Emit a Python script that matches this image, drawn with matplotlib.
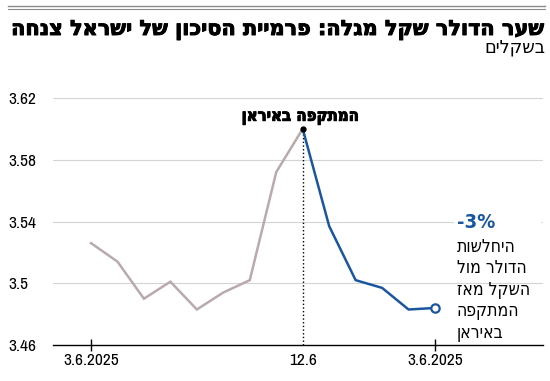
import matplotlib
matplotlib.use("Agg")
import matplotlib.pyplot as plt
import matplotlib.patheffects as pe
from matplotlib.patches import Rectangle
from matplotlib.lines import Line2D

# USD/ILS rate, daily points
values = [3.526, 3.514, 3.490, 3.501, 3.483, 3.494, 3.502, 3.572, 3.600,
          3.537, 3.502, 3.497, 3.483, 3.484]
attack_idx = 8
tick_pos = [0, 8, 13]
tick_labels = ["3.6.2025", "12.6", "3.6.2025"]
y_ticks = [3.46, 3.50, 3.54, 3.58, 3.62]
y_labels = ["3.46", "3.5", "3.54", "3.58", "3.62"]

title = "שער הדולר שקל מגלה: פרמיית הסיכון של ישראל צנחה"
subtitle = "בשקלים"
event_label = "המתקפה באיראן"
change_label = "-3%"
change_lines = ["היחלשות", "הדולר מול", "השקל מאז", "המתקפה", "באיראן"]

GRAY = "#b8aaad"
BLUE = "#1a56a0"
HEB = dict(family="DejaVu Sans", stretch="condensed")
NUM = "Archivo Narrow"
HEAVY = [pe.withStroke(linewidth=0.7, foreground="black")]


def rtl(s):
    # matplotlib has no bidi support: flip Hebrew to visual order
    return s[::-1]


def fit_width(txt, width_px):
    # scale the font so the text spans the width measured on the reference
    r = fig.canvas.get_renderer()
    w = txt.get_window_extent(r).width
    txt.set_fontsize(txt.get_fontsize() * width_px / w)


fig = plt.figure(figsize=(5.5, 3.81), dpi=100)
ax = fig.add_axes([53 / 550, 1 - 345 / 381, 490 / 550, 247 / 381])

x = list(range(len(values)))
ax.plot(x[:attack_idx + 1], values[:attack_idx + 1], color=GRAY, lw=1.8,
        solid_joinstyle="miter", zorder=3)
ax.plot(x[attack_idx:], values[attack_idx:], color=BLUE, lw=1.8,
        solid_joinstyle="miter", zorder=3)
ax.plot(x[-1], values[-1], "o", ms=6, mfc="white", mec=BLUE, mew=1.6, zorder=4)
ax.plot(x[attack_idx], values[attack_idx], "o", ms=3.5, color="black", zorder=5)
ax.plot([attack_idx, attack_idx], [3.46, values[attack_idx]], ls=":", color="black",
        lw=1, zorder=2)

ax.set_xlim(-1.436, 17.08)
ax.set_ylim(3.46, 3.62)

for v in y_ticks[1:]:
    ax.axhline(v, color="#d4d4d4", lw=0.8, zorder=1)

for s in ["top", "right", "left"]:
    ax.spines[s].set_visible(False)
ax.spines["bottom"].set_linewidth(1)
ax.spines["bottom"].set_zorder(2)

ax.set_yticks(y_ticks)
ax.set_yticklabels(y_labels, ha="left", fontsize=12.5, family=NUM)
ax.tick_params(axis="y", length=0, pad=32)

ax.set_xticks(tick_pos)
ax.set_xticklabels(tick_labels, fontsize=12.5, family=NUM)
ax.tick_params(axis="x", direction="inout", length=8, width=1, pad=2)
ax.xaxis.get_major_ticks()[1].tick1line.set_visible(False)

# event annotation
ev = ax.text(attack_idx - 0.1, 3.6085, rtl(event_label), ha="center", va="center",
             fontsize=12, fontweight="bold", zorder=6, path_effects=HEAVY, **HEB)

# white gap in the gridline behind the side note
ax.add_patch(Rectangle((454 / 550, 1 - 232 / 381), 86 / 550, 20 / 381,
                       transform=fig.transFigure, color="white", zorder=1.5,
                       clip_on=False))

ch = ax.text(13.83, 3.5396, change_label, ha="left", va="center", color=BLUE,
             fontsize=13, fontweight="bold", zorder=6, **HEB)
note = ax.text(13.83, 3.5295, "\n".join(rtl(l) for l in change_lines), ha="left",
               va="top", multialignment="left", fontsize=12, linespacing=1.25,
               zorder=6, **HEB)

# header
fig.add_artist(Line2D([8 / 550, 545 / 550], [1 - 6 / 381] * 2, color="#8a8a8a", lw=1))
fig.add_artist(Line2D([8 / 550, 545 / 550], [1 - 8.5 / 381] * 2, color="#8a8a8a", lw=0.8))
tt = fig.text(545 / 550, 1 - 35 / 381, rtl(title), ha="right", va="baseline",
              fontsize=16, fontweight="bold", family="DejaVu Sans", path_effects=HEAVY)
st = fig.text(545 / 550, 1 - 53 / 381, rtl(subtitle), ha="right", va="baseline",
              fontsize=11, family="DejaVu Sans")

fig.canvas.draw()
fit_width(tt, 534)
fit_width(st, 61)
fit_width(ev, 117)
fit_width(ch, 38)
fit_width(note, 73)

fig.savefig("out.png", dpi=100)
